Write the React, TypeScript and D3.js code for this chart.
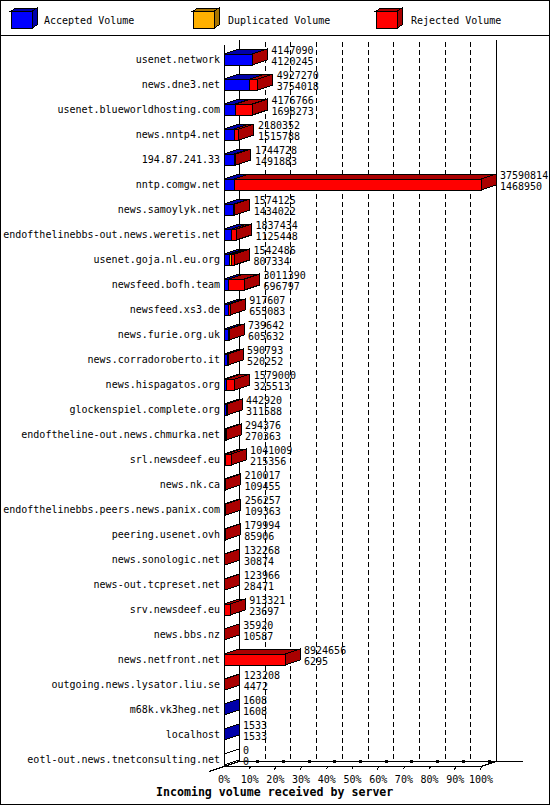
import React, { useEffect, useRef } from 'react'
import * as d3 from 'd3'

const servers = [
  'usenet.network',
  'news.dne3.net',
  'usenet.blueworldhosting.com',
  'news.nntp4.net',
  '194.87.241.33',
  'nntp.comgw.net',
  'news.samoylyk.net',
  'endofthelinebbs-out.news.weretis.net',
  'usenet.goja.nl.eu.org',
  'newsfeed.bofh.team',
  'newsfeed.xs3.de',
  'news.furie.org.uk',
  'news.corradoroberto.it',
  'news.hispagatos.org',
  'glockenspiel.complete.org',
  'endoftheline-out.news.chmurka.net',
  'srl.newsdeef.eu',
  'news.nk.ca',
  'endofthelinebbs.peers.news.panix.com',
  'peering.usenet.ovh',
  'news.sonologic.net',
  'news-out.tcpreset.net',
  'srv.newsdeef.eu',
  'news.bbs.nz',
  'news.netfront.net',
  'outgoing.news.lysator.liu.se',
  'm68k.vk3heg.net',
  'localhost',
  'eotl-out.news.tnetconsulting.net',
]

// top number on each bar
const totalVolume = [
  4147090, 4927270, 4176766, 2180352, 1744728, 37590814, 1574125, 1837434, 1542486, 3011390,
  917607, 739642, 590793, 1579000, 442920, 294376, 1041009, 210017, 256257, 179994,
  132268, 123966, 913321, 35920, 8924656, 123208, 1608, 1533, 0,
]

// bottom number on each bar
const acceptedVolume = [
  4120245, 3754018, 1698273, 1515788, 1491883, 1468950, 1434022, 1125448, 807334, 696797,
  655083, 605632, 520252, 325513, 311588, 270363, 215356, 109455, 109363, 85906,
  30874, 28471, 23697, 10587, 6295, 4472, 1608, 1533, 0,
]

// only visible on usenet.goja.nl.eu.org, estimated from the bar
const duplicatedVolume = [
  0, 0, 0, 0, 0, 0, 0, 0, 250000, 0,
  0, 0, 0, 0, 0, 0, 0, 0, 0, 0,
  0, 0, 0, 0, 0, 0, 0, 0, 0,
]

const rejectedVolume = [
  26845, 1173252, 2478493, 664564, 252845, 36121864, 140103, 711986, 485152, 2314593,
  262524, 134010, 70541, 1253487, 131332, 24013, 825653, 100562, 146894, 94088,
  101394, 95495, 889624, 25333, 8918361, 118736, 0, 0, 0,
]

const legendLabels = ['Accepted Volume', 'Duplicated Volume', 'Rejected Volume']
const percentTicks = [0, 0.1, 0.2, 0.3, 0.4, 0.5, 0.6, 0.7, 0.8, 0.9, 1]
const xTitle = 'Incoming volume received by server'

const FRONT = ['#0000ff', '#ffb000', '#ff0000']
const SHADE = ['#0000aa', '#a87400', '#aa0000']

const W = 550
const H = 805
const DX = 15
const DY = -5
const BAR_H = 11
const MONO = '"DejaVu Sans Mono", "Liberation Mono", monospace'

export default function App() {
  const ref = useRef<SVGSVGElement | null>(null)

  useEffect(() => {
    if (!ref.current) return
    const svg = d3.select(ref.current)
    svg.selectAll('*').remove()

    const pct = d3.scaleLinear().domain([0, 1]).range([224, 481])
    const vol = d3
      .scaleLinear()
      .domain([0, d3.max(totalVolume) || 1])
      .range(pct.range())
    const y = d3.scalePoint<string>().domain(servers).range([59.5, 759.5])

    const x0 = pct(0)
    const x1 = pct(1)
    const floorY = 766
    const topY = 40

    // frame
    svg
      .append('rect')
      .attr('x', 0.5)
      .attr('y', 0.5)
      .attr('width', W - 1)
      .attr('height', H - 1)
      .attr('fill', '#fff')
      .attr('stroke', '#000')
    svg
      .append('line')
      .attr('x1', 0)
      .attr('x2', W)
      .attr('y1', 35.5)
      .attr('y2', 35.5)
      .attr('stroke', '#000')

    // legend
    const legendBoxX = [11, 193, 376]
    const legendTextX = [44, 228, 411]
    const lg = svg.append('g').attr('shape-rendering', 'crispEdges')
    legendLabels.forEach((label, i) => {
      const bx = legendBoxX[i]
      const by = 11
      const bw = 21
      const bh = 17
      lg.append('polygon')
        .attr('points', `${bx},${by} ${bx + bw},${by} ${bx + bw + 5},${by - 3} ${bx + 5},${by - 3}`)
        .attr('fill', SHADE[i])
        .attr('stroke', '#000')
      lg.append('polygon')
        .attr('points', `${bx + bw},${by} ${bx + bw + 5},${by - 3} ${bx + bw + 5},${by + bh - 3} ${bx + bw},${by + bh}`)
        .attr('fill', SHADE[i])
        .attr('stroke', '#000')
      lg.append('rect')
        .attr('x', bx)
        .attr('y', by)
        .attr('width', bw)
        .attr('height', bh)
        .attr('fill', FRONT[i])
        .attr('stroke', '#000')
      lg.append('text')
        .attr('x', legendTextX[i])
        .attr('y', 23.5)
        .attr('font-family', MONO)
        .attr('font-size', 10)
        .text(label)
    })

    // back plane and grid
    const back = svg.append('g').attr('shape-rendering', 'crispEdges').attr('stroke', '#000')
    back
      .selectAll('line.grid')
      .data(percentTicks.slice(1, -1))
      .join('line')
      .attr('class', 'grid')
      .attr('x1', (d) => Math.round(pct(d) + DX) + 0.5)
      .attr('x2', (d) => Math.round(pct(d) + DX) + 0.5)
      .attr('y1', topY + 2)
      .attr('y2', floorY + DY)
      .attr('stroke-dasharray', '5,3')
    ;[x0 + DX, x1 + DX].forEach((x) => {
      back
        .append('line')
        .attr('x1', Math.round(x) + 0.5)
        .attr('x2', Math.round(x) + 0.5)
        .attr('y1', topY)
        .attr('y2', floorY + DY)
    })

    // floor
    const floor = svg.append('g').attr('stroke', '#000').attr('shape-rendering', 'crispEdges')
    floor
      .append('line')
      .attr('x1', x0 + DX)
      .attr('x2', 523)
      .attr('y1', floorY + DY + 0.5)
      .attr('y2', floorY + DY + 0.5)
    floor
      .append('line')
      .attr('x1', x0)
      .attr('x2', x1)
      .attr('y1', floorY + 0.5)
      .attr('y2', floorY + 0.5)
    floor
      .append('line')
      .attr('x1', x1)
      .attr('y1', floorY + 0.5)
      .attr('x2', x1 + DX)
      .attr('y2', floorY + DY + 0.5)
    floor
      .append('line')
      .attr('x1', x0 - DX)
      .attr('y1', floorY - DY + 0.5)
      .attr('x2', x0 + DX)
      .attr('y2', floorY + DY + 0.5)
    percentTicks.slice(1).forEach((t) => {
      const x = pct(t)
      floor
        .append('line')
        .attr('x1', x - 1)
        .attr('y1', floorY + 3.5)
        .attr('x2', x + 1)
        .attr('y2', floorY + 0.5)
      floor
        .append('rect')
        .attr('x', x + 7)
        .attr('y', floorY + DY - 1)
        .attr('width', 2)
        .attr('height', 2)
        .attr('fill', '#000')
    })

    // bars
    const bars = svg.append('g').attr('shape-rendering', 'crispEdges')
    servers.forEach((name, i) => {
      const c = y(name) as number
      const yt = c - BAR_H / 2
      const yb = c + BAR_H / 2
      const parts = [acceptedVolume[i], duplicatedVolume[i], rejectedVolume[i]]
      let cum = 0
      let last = -1
      parts.forEach((v, k) => {
        if (v <= 0) return
        const xa = vol(cum)
        const xb = vol(cum + v)
        cum += v
        last = k
        bars
          .append('polygon')
          .attr('points', `${xa},${yt} ${xb},${yt} ${xb + DX},${yt + DY} ${xa + DX},${yt + DY}`)
          .attr('fill', SHADE[k])
          .attr('stroke', '#000')
        bars
          .append('rect')
          .attr('x', xa)
          .attr('y', yt)
          .attr('width', xb - xa)
          .attr('height', BAR_H)
          .attr('fill', FRONT[k])
          .attr('stroke', '#000')
      })
      const xe = vol(totalVolume[i])
      bars
        .append('polygon')
        .attr('points', `${xe},${yt} ${xe + DX},${yt + DY} ${xe + DX},${yb + DY} ${xe},${yb}`)
        .attr('fill', last >= 0 ? SHADE[last] : '#fff')
        .attr('stroke', '#000')
    })

    // front axis
    svg
      .append('line')
      .attr('x1', x0 + 0.5)
      .attr('x2', x0 + 0.5)
      .attr('y1', topY + 5)
      .attr('y2', floorY)
      .attr('stroke', '#000')
      .attr('shape-rendering', 'crispEdges')

    // server names
    svg
      .append('g')
      .selectAll('text')
      .data(servers)
      .join('text')
      .attr('x', 220)
      .attr('y', (d) => (y(d) as number) + 3.5)
      .attr('text-anchor', 'end')
      .attr('font-family', MONO)
      .attr('font-size', 10)
      .text((d) => d)

    // values
    const vals = svg.append('g').attr('font-family', MONO).attr('font-size', 10)
    servers.forEach((name, i) => {
      const c = y(name) as number
      const xt = vol(totalVolume[i]) + DX + 4
      vals.append('text').attr('x', xt).attr('y', c - 6).text(String(totalVolume[i]))
      vals.append('text').attr('x', xt).attr('y', c + 5).text(String(acceptedVolume[i]))
    })

    // percent axis
    svg
      .append('g')
      .selectAll('text')
      .data(percentTicks)
      .join('text')
      .attr('x', (d) => pct(d))
      .attr('y', 782.5)
      .attr('text-anchor', 'middle')
      .attr('font-family', MONO)
      .attr('font-size', 10)
      .text((d) => d3.format('.0%')(d))

    svg
      .append('text')
      .attr('x', 156)
      .attr('y', 795.5)
      .attr('font-family', MONO)
      .attr('font-size', 11.6)
      .attr('font-weight', 'bold')
      .text(xTitle)
  }, [])

  return (
    <svg
      ref={ref}
      width={W}
      height={H}
      style={{ position: 'absolute', left: 0, top: 0, background: '#fff' }}
      role="img"
      aria-label="Incoming volume received by server"
    />
  )
}
